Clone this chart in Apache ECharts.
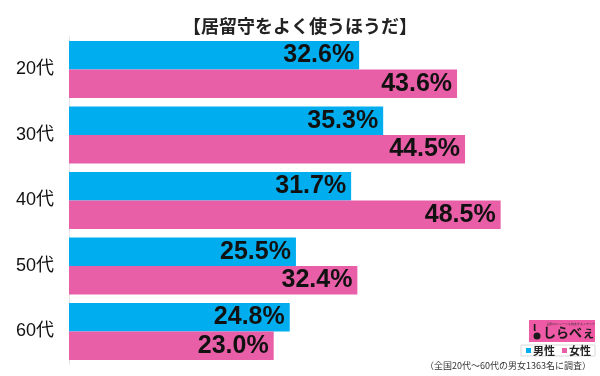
<!DOCTYPE html>
<html>
<head>
<meta charset="utf-8">
<script src="https://cdn.jsdelivr.net/npm/echarts@6/dist/echarts.min.js"></script>
<style>
  html, body { margin: 0; padding: 0; background: #fff; }
  #chart { width: 600px; height: 376px; }
</style>
</head>
<body>
<div id="chart"></div>
<script>
// data
const ageGroups = ['20代', '30代', '40代', '50代', '60代'];
const maleValues = [32.6, 35.3, 31.7, 25.5, 24.8];
const femaleValues = [43.6, 44.5, 48.5, 32.4, 23.0];
const seriesNames = ['男性', '女性'];
const titleText = '【居留守をよく使うほうだ】';
const noteText = '（全国20代～60代の男女1363名に調査）';

const MALE_COLOR = '#00AEEF';
const FEMALE_COLOR = '#E85FA8';
const FONT = '"Liberation Sans", Arial, "Noto Sans CJK JP", sans-serif';
const JP_FONT = '"Noto Sans CJK JP", sans-serif';

const chart = echarts.init(document.getElementById('chart'));

const barLabel = {
  show: true,
  position: 'insideRight',
  distance: 5,
  fontSize: 25,
  fontWeight: 'bold',
  fontFamily: FONT,
  color: '#111',
  formatter: (p) => p.value.toFixed(1) + '%'
};

const option = {
  animation: false,
  title: {
    text: titleText,
    left: 'center',
    top: 12,
    textStyle: { fontSize: 18, fontWeight: 'bold', color: '#222', fontFamily: JP_FONT }
  },
  legend: {
    data: seriesNames,
    orient: 'horizontal',
    right: 5,
    top: 345,
    icon: 'rect',
    itemWidth: 5,
    itemHeight: 5,
    itemGap: 7,
    padding: [0, 4, 0, 5],
    backgroundColor: '#fff',
    borderColor: '#d8d8d8',
    borderWidth: 1,
    textStyle: { fontSize: 11, fontWeight: 'bold', color: '#222', padding: [0, 0, 0, -3], fontFamily: JP_FONT }
  },
  grid: { left: 69, top: 36.75, width: 489.5, height: 327.5, containLabel: false },
  xAxis: {
    type: 'value',
    min: 0,
    max: 55,
    show: false
  },
  yAxis: {
    type: 'category',
    data: ageGroups,
    inverse: true,
    axisTick: { show: false },
    axisLine: { show: true, lineStyle: { color: '#e4e4e4', width: 1 } },
    axisLabel: { fontSize: 18, color: '#111', margin: 15, fontFamily: FONT }
  },
  series: [
    {
      name: seriesNames[0],
      type: 'bar',
      data: maleValues,
      barGap: 0,
      barCategoryGap: '13%',
      itemStyle: { color: MALE_COLOR },
      label: barLabel
    },
    {
      name: seriesNames[1],
      type: 'bar',
      data: femaleValues,
      barGap: 0,
      barCategoryGap: '13%',
      itemStyle: { color: FEMALE_COLOR },
      label: barLabel
    }
  ],
  graphic: [
    // logo box
    {
      type: 'rect',
      shape: { x: 529, y: 320, width: 66, height: 22 },
      style: { fill: '#EE5AA5' }
    },
    {
      type: 'circle',
      shape: { cx: 537, cy: 336, r: 3.5 },
      style: { fill: '#1a1a1a' }
    },
    {
      type: 'text',
      style: { x: 533, y: 322, text: 'ι', fontSize: 12, fontWeight: 'bold', fill: '#1a1a1a' }
    },
    {
      type: 'text',
      style: { x: 547, y: 323, text: '話題のニュースを調査するメディア', fontSize: 3, fill: '#333' }
    },
    {
      type: 'text',
      style: { x: 543, y: 326, text: 'しらべぇ', fontSize: 13, fontWeight: 'bold', fill: '#1a1a1a', fontFamily: JP_FONT }
    },
    // survey note
    {
      type: 'text',
      style: { x: 591, y: 361, text: noteText, fontSize: 9, fill: '#333', align: 'right', fontFamily: JP_FONT }
    }
  ]
};

chart.setOption(option);
</script>
</body>
</html>
